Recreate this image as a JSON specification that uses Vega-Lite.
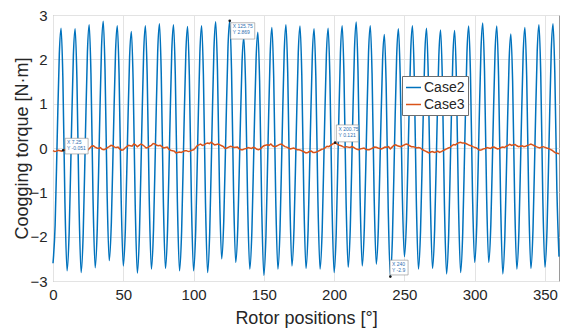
{
"$schema": "https://vega.github.io/schema/vega-lite/v6.json",
"width": 506, "height": 266,
"autosize": {"type": "none"},
"padding": {"left": 53, "top": 15, "right": 4, "bottom": 48},
"background": "white",
"config": {
  "font": "Liberation Sans",
  "view": {"stroke": "#9a9a9a", "strokeWidth": 1},
  "axis": {"domain": false, "ticks": false, "grid": true, "gridColor": "#e3e3e3", "labelColor": "#262626", "titleColor": "#262626", "labelFontSize": 15, "titleFontSize": 18, "titleFontWeight": "normal", "labelFont": "Liberation Sans", "titleFont": "Liberation Sans"}
},
"datasets": {
"c2": [
{"x":0,"y":-2.60},{"x":1.5,"y":-1.75},{"x":3,"y":0.24},{"x":4.5,"y":2.12},{"x":5.75,"y":2.70},{"x":7,"y":1.61},{"x":8.5,"y":-1.24},
{"x":10,"y":-2.77},{"x":11.5,"y":-1.90},{"x":13,"y":0.15},{"x":14.5,"y":2.09},{"x":15.75,"y":2.69},{"x":17,"y":1.59},{"x":18.5,"y":-1.27},
{"x":20,"y":-2.81},{"x":21.5,"y":-1.92},{"x":23,"y":0.18},{"x":24.5,"y":2.17},{"x":25.75,"y":2.78},{"x":27,"y":1.68},{"x":28.5,"y":-1.17},
{"x":30,"y":-2.70},{"x":31.5,"y":-1.81},{"x":33,"y":0.27},{"x":34.5,"y":2.25},{"x":35.75,"y":2.86},{"x":37,"y":1.78},{"x":38.5,"y":-1.03},
{"x":40,"y":-2.54},{"x":41.5,"y":-1.69},{"x":43,"y":0.30},{"x":44.5,"y":2.18},{"x":45.75,"y":2.76},{"x":47,"y":1.68},{"x":48.5,"y":-1.14},
{"x":50,"y":-2.66},{"x":51.5,"y":-1.81},{"x":53,"y":0.17},{"x":54.5,"y":2.05},{"x":55.75,"y":2.63},{"x":57,"y":1.54},{"x":58.5,"y":-1.29},
{"x":60,"y":-2.82},{"x":61.5,"y":-1.93},{"x":63,"y":0.17},{"x":64.5,"y":2.15},{"x":65.75,"y":2.76},{"x":67,"y":1.66},{"x":68.5,"y":-1.19},
{"x":70,"y":-2.73},{"x":71.5,"y":-1.85},{"x":73,"y":0.23},{"x":74.5,"y":2.19},{"x":75.75,"y":2.80},{"x":77,"y":1.70},{"x":78.5,"y":-1.17},
{"x":80,"y":-2.72},{"x":81.5,"y":-1.84},{"x":83,"y":0.22},{"x":84.5,"y":2.18},{"x":85.75,"y":2.78},{"x":87,"y":1.67},{"x":88.5,"y":-1.22},
{"x":90,"y":-2.77},{"x":91.5,"y":-1.89},{"x":93,"y":0.18},{"x":94.5,"y":2.13},{"x":95.75,"y":2.74},{"x":97,"y":1.64},{"x":98.5,"y":-1.23},
{"x":100,"y":-2.77},{"x":101.5,"y":-1.89},{"x":103,"y":0.19},{"x":104.5,"y":2.15},{"x":105.75,"y":2.76},{"x":107,"y":1.65},{"x":108.5,"y":-1.25},
{"x":110,"y":-2.81},{"x":111.5,"y":-1.90},{"x":113,"y":0.22},{"x":114.5,"y":2.23},{"x":115.75,"y":2.85},{"x":117,"y":1.78},{"x":118.5,"y":-1.00},
{"x":120,"y":-2.50},{"x":121.5,"y":-1.64},{"x":123,"y":0.37},{"x":124.5,"y":2.28},{"x":125.75,"y":2.869},{"x":127,"y":1.78},{"x":128.5,"y":-1.05},
{"x":130,"y":-2.58},{"x":131.5,"y":-1.77},{"x":133,"y":0.14},{"x":134.5,"y":1.94},{"x":135.75,"y":2.50},{"x":137,"y":1.45},{"x":138.5,"y":-1.27},
{"x":140,"y":-2.73},{"x":141.5,"y":-1.88},{"x":143,"y":0.13},{"x":144.5,"y":2.02},{"x":145.75,"y":2.61},{"x":147,"y":1.51},{"x":148.5,"y":-1.34},
{"x":150,"y":-2.87},{"x":151.5,"y":-1.98},{"x":153,"y":0.12},{"x":154.5,"y":2.11},{"x":155.75,"y":2.72},{"x":157,"y":1.63},{"x":158.5,"y":-1.20},
{"x":160,"y":-2.73},{"x":161.5,"y":-1.85},{"x":163,"y":0.22},{"x":164.5,"y":2.17},{"x":165.75,"y":2.78},{"x":167,"y":1.69},{"x":168.5,"y":-1.14},
{"x":170,"y":-2.66},{"x":171.5,"y":-1.79},{"x":173,"y":0.23},{"x":174.5,"y":2.15},{"x":175.75,"y":2.75},{"x":177,"y":1.66},{"x":178.5,"y":-1.19},
{"x":180,"y":-2.72},{"x":181.5,"y":-1.85},{"x":183,"y":0.17},{"x":184.5,"y":2.09},{"x":185.75,"y":2.69},{"x":187,"y":1.61},{"x":188.5,"y":-1.21},
{"x":190,"y":-2.73},{"x":191.5,"y":-1.86},{"x":193,"y":0.18},{"x":194.5,"y":2.10},{"x":195.75,"y":2.70},{"x":197,"y":1.60},{"x":198.5,"y":-1.27},
{"x":200,"y":-2.81},{"x":201.5,"y":-1.92},{"x":203,"y":0.17},{"x":204.5,"y":2.15},{"x":205.75,"y":2.76},{"x":207,"y":1.67},{"x":208.5,"y":-1.16},
{"x":210,"y":-2.69},{"x":211.5,"y":-1.81},{"x":213,"y":0.27},{"x":214.5,"y":2.23},{"x":215.75,"y":2.84},{"x":217,"y":1.74},{"x":218.5,"y":-1.12},
{"x":220,"y":-2.66},{"x":221.5,"y":-1.79},{"x":223,"y":0.24},{"x":224.5,"y":2.16},{"x":225.75,"y":2.76},{"x":227,"y":1.68},{"x":228.5,"y":-1.11},
{"x":230,"y":-2.62},{"x":231.5,"y":-1.79},{"x":233,"y":0.15},{"x":234.5,"y":1.99},{"x":235.75,"y":2.56},{"x":237,"y":1.47},{"x":238.5,"y":-1.37},
{"x":240,"y":-2.90},{"x":241.5,"y":-2.01},{"x":243,"y":0.09},{"x":244.5,"y":2.07},{"x":245.75,"y":2.69},{"x":247,"y":1.66},{"x":248.5,"y":-1.01},
{"x":250,"y":-2.45},{"x":251.5,"y":-1.62},{"x":253,"y":0.34},{"x":254.5,"y":2.19},{"x":255.75,"y":2.76},{"x":257,"y":1.66},{"x":258.5,"y":-1.19},
{"x":260,"y":-2.73},{"x":261.5,"y":-1.86},{"x":263,"y":0.17},{"x":264.5,"y":2.10},{"x":265.75,"y":2.70},{"x":267,"y":1.62},{"x":268.5,"y":-1.20},
{"x":270,"y":-2.72},{"x":271.5,"y":-1.86},{"x":273,"y":0.16},{"x":274.5,"y":2.07},{"x":275.75,"y":2.66},{"x":277,"y":1.56},{"x":278.5,"y":-1.30},
{"x":280,"y":-2.84},{"x":281.5,"y":-1.96},{"x":283,"y":0.10},{"x":284.5,"y":2.05},{"x":285.75,"y":2.65},{"x":287,"y":1.56},{"x":288.5,"y":-1.28},
{"x":290,"y":-2.81},{"x":291.5,"y":-1.92},{"x":293,"y":0.16},{"x":294.5,"y":2.14},{"x":295.75,"y":2.75},{"x":297,"y":1.68},{"x":298.5,"y":-1.09},
{"x":300,"y":-2.58},{"x":301.5,"y":-1.72},{"x":303,"y":0.31},{"x":304.5,"y":2.23},{"x":305.75,"y":2.82},{"x":307,"y":1.74},{"x":308.5,"y":-1.07},
{"x":310,"y":-2.58},{"x":311.5,"y":-1.73},{"x":313,"y":0.27},{"x":314.5,"y":2.16},{"x":315.75,"y":2.75},{"x":317,"y":1.63},{"x":318.5,"y":-1.27},
{"x":320,"y":-2.84},{"x":321.5,"y":-1.97},{"x":323,"y":0.05},{"x":324.5,"y":1.97},{"x":325.75,"y":2.57},{"x":327,"y":1.51},{"x":328.5,"y":-1.25},
{"x":330,"y":-2.73},{"x":331.5,"y":-1.86},{"x":333,"y":0.19},{"x":334.5,"y":2.12},{"x":335.75,"y":2.72},{"x":337,"y":1.63},{"x":338.5,"y":-1.20},
{"x":340,"y":-2.72},{"x":341.5,"y":-1.84},{"x":343,"y":0.22},{"x":344.5,"y":2.18},{"x":345.75,"y":2.78},{"x":347,"y":1.69},{"x":348.5,"y":-1.16},
{"x":350,"y":-2.69},{"x":351.5,"y":-1.81},{"x":353,"y":0.25},{"x":354.5,"y":2.20},{"x":355.75,"y":2.80},{"x":357,"y":1.72},{"x":358.5,"y":-0.95},
{"x":360,"y":-2.45}
],
"c3": [
{"x":0,"y":-0.06},{"x":2.5,"y":-0.07},{"x":5,"y":-0.06},{"x":7.25,"y":-0.051},{"x":10,"y":-0.06},{"x":12.5,"y":-0.03},{"x":15,"y":-0.05},{"x":17.5,"y":-0.02},
{"x":20,"y":-0.06},{"x":22.5,"y":-0.03},{"x":25,"y":-0.04},{"x":27.5,"y":0.04},{"x":30,"y":0.02},{"x":32.5,"y":-0.01},{"x":35,"y":-0.03},{"x":37.5,"y":-0.02},
{"x":40,"y":0.03},{"x":42.5,"y":0.05},{"x":45,"y":0.01},{"x":47.5,"y":-0.02},{"x":50,"y":-0.04},{"x":52.5,"y":0.03},{"x":55,"y":0.05},{"x":57.5,"y":0.09},
{"x":60,"y":0.03},{"x":62.5,"y":0.09},{"x":65,"y":0.04},{"x":67.5,"y":0.01},{"x":70,"y":0.06},{"x":72.5,"y":0.09},{"x":75,"y":0.05},{"x":77.5,"y":0.03},
{"x":80,"y":0.01},{"x":82.5,"y":-0.03},{"x":85,"y":-0.06},{"x":87.5,"y":-0.11},{"x":90,"y":-0.09},{"x":92.5,"y":-0.08},{"x":95,"y":-0.06},{"x":97.5,"y":-0.07},
{"x":100,"y":-0.04},{"x":102.5,"y":0.05},{"x":105,"y":0.09},{"x":107.5,"y":0.07},{"x":110,"y":0.11},{"x":112.5,"y":0.13},{"x":115,"y":0.07},{"x":117.5,"y":0.09},
{"x":120,"y":0.05},{"x":122.5,"y":-0.01},{"x":125,"y":0.02},{"x":127.5,"y":0.03},{"x":130,"y":0.015},{"x":132.5,"y":-0.02},{"x":135,"y":-0.04},{"x":137.5,"y":-0.01},
{"x":140,"y":0.0},{"x":142.5,"y":0.015},{"x":145,"y":-0.03},{"x":147.5,"y":-0.02},{"x":150,"y":0.05},{"x":152.5,"y":0.07},{"x":155,"y":0.09},{"x":157.5,"y":0.03},
{"x":160,"y":0.06},{"x":162.5,"y":0.09},{"x":165,"y":0.03},{"x":167.5,"y":0.0},{"x":170,"y":-0.01},{"x":172.5,"y":-0.02},{"x":175,"y":-0.04},{"x":177.5,"y":-0.07},
{"x":180,"y":-0.11},{"x":182.5,"y":-0.08},{"x":185,"y":-0.1},{"x":187.5,"y":-0.09},{"x":190,"y":-0.05},{"x":192.5,"y":-0.02},{"x":195,"y":0.04},{"x":197.5,"y":0.06},
{"x":200.75,"y":0.121},{"x":202.5,"y":0.08},{"x":205,"y":0.05},{"x":207.5,"y":0.015},{"x":210,"y":0.02},{"x":212.5,"y":0.03},{"x":215,"y":-0.01},{"x":217.5,"y":-0.04},
{"x":220,"y":-0.01},{"x":222.5,"y":-0.03},{"x":225,"y":-0.04},{"x":227.5,"y":0.0},{"x":230,"y":0.015},{"x":232.5,"y":-0.01},{"x":235,"y":0.0},{"x":237.5,"y":0.015},
{"x":240,"y":-0.02},{"x":242.5,"y":0.06},{"x":245,"y":0.05},{"x":247.5,"y":0.03},{"x":250,"y":0.07},{"x":252.5,"y":0.08},{"x":255,"y":0.03},{"x":257.5,"y":0.02},
{"x":260,"y":0.01},{"x":262.5,"y":-0.03},{"x":265,"y":-0.07},{"x":267.5,"y":-0.11},{"x":270,"y":-0.08},{"x":272.5,"y":-0.09},{"x":275,"y":-0.1},{"x":277.5,"y":-0.06},
{"x":280,"y":-0.02},{"x":282.5,"y":0.015},{"x":285,"y":0.08},{"x":287.5,"y":0.1},{"x":290,"y":0.13},{"x":292.5,"y":0.11},{"x":295,"y":0.08},{"x":297.5,"y":0.05},
{"x":300,"y":0.015},{"x":302.5,"y":-0.03},{"x":305,"y":-0.04},{"x":307.5,"y":-0.01},{"x":310,"y":0.0},{"x":312.5,"y":0.015},{"x":315,"y":0.0},{"x":317.5,"y":-0.01},
{"x":320,"y":0.02},{"x":322.5,"y":0.04},{"x":325,"y":0.08},{"x":327.5,"y":0.07},{"x":330,"y":0.05},{"x":332.5,"y":0.04},{"x":335,"y":0.03},{"x":337.5,"y":0.06},
{"x":340,"y":0.09},{"x":342.5,"y":0.05},{"x":345,"y":0.015},{"x":347.5,"y":0.02},{"x":350,"y":0.015},{"x":352.5,"y":-0.01},{"x":355,"y":-0.05},{"x":357.5,"y":-0.11},
{"x":360,"y":-0.13},
{"x":1.25,"y":-0.08},{"x":3.75,"y":-0.05},{"x":6.25,"y":-0.07},{"x":8.75,"y":-0.04},{"x":11.25,"y":-0.05},{"x":13.75,"y":-0.01},{"x":16.25,"y":-0.06},{"x":18.75,"y":-0.03},
{"x":21.25,"y":-0.04},{"x":23.75,"y":-0.01},{"x":26.25,"y":0.0},{"x":28.75,"y":0.05},{"x":31.25,"y":0.0},{"x":33.75,"y":0.01},{"x":36.25,"y":-0.04},{"x":38.75,"y":0.01},
{"x":41.25,"y":0.06},{"x":43.75,"y":0.02},{"x":46.25,"y":0.02},{"x":48.75,"y":-0.05},{"x":51.25,"y":0.0},{"x":53.75,"y":0.06},{"x":56.25,"y":0.04},{"x":58.75,"y":0.07},
{"x":61.25,"y":0.06},{"x":63.75,"y":0.07},{"x":66.25,"y":0.0},{"x":68.75,"y":0.04},{"x":71.25,"y":0.1},{"x":73.75,"y":0.06},{"x":76.25,"y":0.06},{"x":78.75,"y":0.0},
{"x":81.25,"y":0.02},{"x":83.75,"y":-0.05},{"x":86.25,"y":-0.07},{"x":88.75,"y":-0.1},{"x":91.25,"y":-0.1},{"x":93.75,"y":-0.06},{"x":96.25,"y":-0.08},{"x":98.75,"y":-0.05},
{"x":101.25,"y":0.0},{"x":103.75,"y":0.07},{"x":106.25,"y":0.06},{"x":108.75,"y":0.1},{"x":111.25,"y":0.1},{"x":113.75,"y":0.1},{"x":116.25,"y":0.08},{"x":118.75,"y":0.07},
{"x":121.25,"y":0.03},{"x":123.75,"y":0.0},{"x":126.25,"y":0.04},{"x":128.75,"y":0.01},{"x":131.25,"y":0.02},{"x":133.75,"y":-0.04},{"x":136.25,"y":-0.02},{"x":138.75,"y":0.01},
{"x":141.25,"y":-0.01},{"x":143.75,"y":0.0},{"x":146.25,"y":-0.04},{"x":148.75,"y":0.02},{"x":151.25,"y":0.06},{"x":153.75,"y":0.06},{"x":156.25,"y":0.05},{"x":158.75,"y":0.04},
{"x":161.25,"y":0.08},{"x":163.75,"y":0.06},{"x":166.25,"y":0.02},{"x":168.75,"y":-0.02},{"x":171.25,"y":0.0},{"x":173.75,"y":-0.04},{"x":176.25,"y":-0.05},{"x":178.75,"y":-0.09},
{"x":181.25,"y":-0.1},{"x":183.75,"y":-0.07},{"x":186.25,"y":-0.1},{"x":188.75,"y":-0.07},{"x":191.25,"y":-0.03},{"x":193.75,"y":0.01},{"x":196.25,"y":0.03},{"x":199,"y":0.09},
{"x":203.75,"y":0.06},{"x":206.25,"y":0.03},{"x":208.75,"y":0.03},{"x":211.25,"y":0.01},{"x":213.75,"y":0.02},{"x":216.25,"y":-0.03},{"x":218.75,"y":-0.02},
{"x":221.25,"y":0.0},{"x":223.75,"y":-0.04},{"x":226.25,"y":-0.02},{"x":228.75,"y":0.02},{"x":231.25,"y":0.0},{"x":233.75,"y":-0.02},{"x":236.25,"y":0.02},{"x":238.75,"y":0.03},
{"x":241.25,"y":0.02},{"x":243.75,"y":0.07},{"x":246.25,"y":0.04},{"x":248.75,"y":0.05},{"x":251.25,"y":0.09},{"x":253.75,"y":0.05},{"x":256.25,"y":0.03},{"x":258.75,"y":0.0},
{"x":261.25,"y":0.0},{"x":263.75,"y":-0.05},{"x":266.25,"y":-0.09},{"x":268.75,"y":-0.09},{"x":271.25,"y":-0.1},{"x":273.75,"y":-0.07},{"x":276.25,"y":-0.08},{"x":278.75,"y":-0.04},
{"x":281.25,"y":0.0},{"x":283.75,"y":0.05},{"x":286.25,"y":0.07},{"x":288.75,"y":0.12},{"x":291.25,"y":0.11},{"x":293.75,"y":0.1},{"x":296.25,"y":0.06},{"x":298.75,"y":0.03},
{"x":301.25,"y":0.0},{"x":303.75,"y":-0.05},{"x":306.25,"y":-0.02},{"x":308.75,"y":0.01},{"x":311.25,"y":-0.01},{"x":313.75,"y":0.02},{"x":316.25,"y":-0.02},{"x":318.75,"y":0.01},
{"x":321.25,"y":0.01},{"x":323.75,"y":0.06},{"x":326.25,"y":0.06},{"x":328.75,"y":0.08},{"x":331.25,"y":0.03},{"x":333.75,"y":0.05},{"x":336.25,"y":0.04},{"x":338.75,"y":0.07},
{"x":341.25,"y":0.07},{"x":343.75,"y":0.03},{"x":346.25,"y":0.0},{"x":348.75,"y":0.03},{"x":351.25,"y":0.0},{"x":353.75,"y":-0.03},{"x":356.25,"y":-0.08},{"x":358.75,"y":-0.12}
],
"tips": [
{"id":1,"x":7.25,"y":-0.051,"t":"X 7.25\nY -0.051"},
{"id":2,"x":125.75,"y":2.869,"t":"X 125.75\nY 2.869"},
{"id":3,"x":200.75,"y":0.121,"t":"X 200.75\nY 0.121"},
{"id":4,"x":240,"y":-2.9,"t":"X 240\nY -2.9"}
]
},
"encoding": {
  "x": {"field": "x", "type": "quantitative", "scale": {"domain": [0, 360], "nice": false, "zero": false},
        "axis": {"values": [0,50,100,150,200,250,300,350], "title": "Rotor positions [°]", "labelPadding": 6, "labelFlush": false, "labelOverlap": false, "titleY": 37, "titleBaseline": "middle"}},
  "y": {"field": "y", "type": "quantitative", "scale": {"domain": [-3, 3], "nice": false, "zero": false},
        "axis": {"values": [-3,-2,-1,0,1,2,3], "title": "Coogging torque [N·m]", "labelPadding": 6, "labelOverlap": false, "titleX": -31, "titleY": 133, "titleAngle": -90, "titleAlign": "center", "titleBaseline": "middle"}}
},
"layer": [
  {"data": {"name": "c2"}, "mark": {"type": "line", "interpolate": "monotone", "strokeWidth": 1.5},
   "encoding": {"color": {"datum": "Case2", "type": "nominal", "scale": {"domain": ["Case2", "Case3"], "range": ["#0072BD", "#D95319"]},
     "legend": {"orient": "none", "legendX": 349, "legendY": 61, "title": null, "symbolType": "stroke", "symbolSize": 225, "symbolStrokeWidth": 1.5, "labelFontSize": 14, "labelColor": "#262626", "labelFont": "Liberation Sans", "fillColor": "white", "strokeColor": "#6e6e6e", "padding": 3, "rowPadding": 1, "labelOffset": 2}}}},
  {"data": {"name": "c3"}, "mark": {"type": "line", "strokeWidth": 1.5},
   "encoding": {"color": {"datum": "Case3", "type": "nominal"}}},
  {"data": {"name": "tips"}, "mark": {"type": "point", "shape": "circle", "size": 7, "filled": true, "color": "#1a1a1a", "opacity": 1}},
  {"data": {"name": "tips"}, "transform": [{"filter": "datum.id == 1"}], "mark": {"type": "point", "shape": "M-1,-0.68H1V0.68H-1Z", "size": 529, "filled": true, "fill": "white", "fillOpacity": 1, "opacity": 1, "stroke": "#8c8c8c", "strokeWidth": 0.6, "xOffset": 13.45, "yOffset": -4.15}},
  {"data": {"name": "tips"}, "transform": [{"filter": "datum.id == 2"}], "mark": {"type": "point", "shape": "M-1,-0.68H1V0.68H-1Z", "size": 576, "filled": true, "fill": "white", "fillOpacity": 1, "opacity": 1, "stroke": "#8c8c8c", "strokeWidth": 0.6, "xOffset": 13, "yOffset": 10.1}},
  {"data": {"name": "tips"}, "transform": [{"filter": "datum.id == 3"}], "mark": {"type": "point", "shape": "M-1,-0.77H1V0.77H-1Z", "size": 484, "filled": true, "fill": "white", "fillOpacity": 1, "opacity": 1, "stroke": "#8c8c8c", "strokeWidth": 0.6, "xOffset": 12.2, "yOffset": -9.25}},
  {"data": {"name": "tips"}, "transform": [{"filter": "datum.id == 4"}], "mark": {"type": "point", "shape": "M-1,-0.82H1V0.82H-1Z", "size": 324, "filled": true, "fill": "white", "fillOpacity": 1, "opacity": 1, "stroke": "#8c8c8c", "strokeWidth": 0.6, "xOffset": 8.75, "yOffset": -9}},
  {"data": {"name": "tips"}, "transform": [{"filter": "datum.id == 1"}], "mark": {"type": "text", "align": "left", "baseline": "top", "fontSize": 5, "lineHeight": 6, "lineBreak": "\n", "color": "#2f6fb0", "dx": 3.8, "dy": -10.5}, "encoding": {"text": {"field": "t"}}},
  {"data": {"name": "tips"}, "transform": [{"filter": "datum.id == 2"}], "mark": {"type": "text", "align": "left", "baseline": "top", "fontSize": 5, "lineHeight": 6, "lineBreak": "\n", "color": "#2f6fb0", "dx": 3, "dy": 3.3}, "encoding": {"text": {"field": "t"}}},
  {"data": {"name": "tips"}, "transform": [{"filter": "datum.id == 3"}], "mark": {"type": "text", "align": "left", "baseline": "top", "fontSize": 5, "lineHeight": 6, "lineBreak": "\n", "color": "#2f6fb0", "dx": 3.4, "dy": -16}, "encoding": {"text": {"field": "t"}}},
  {"data": {"name": "tips"}, "transform": [{"filter": "datum.id == 4"}], "mark": {"type": "text", "align": "left", "baseline": "top", "fontSize": 5, "lineHeight": 6, "lineBreak": "\n", "color": "#2f6fb0", "dx": 1.6, "dy": -15}, "encoding": {"text": {"field": "t"}}}
]
}
